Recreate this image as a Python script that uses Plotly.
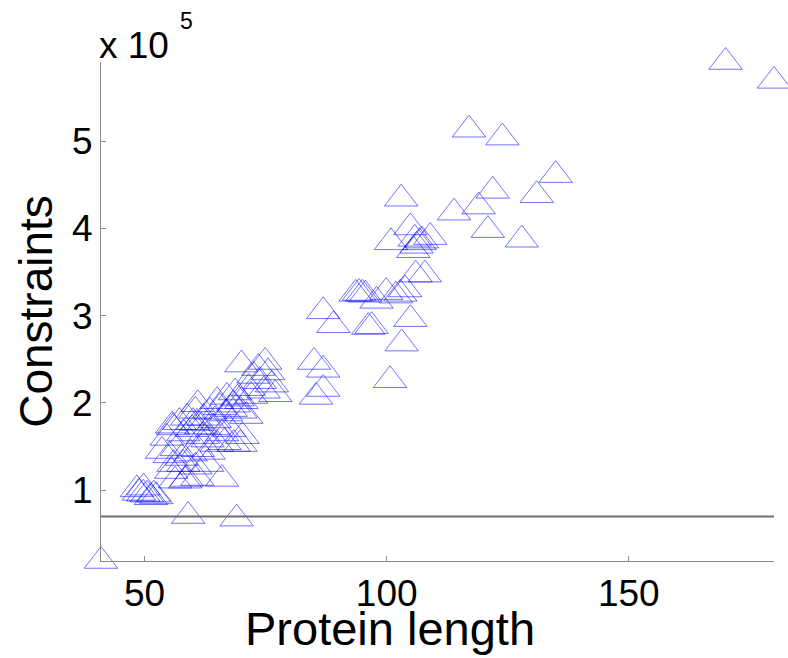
import plotly.graph_objects as go

# Protein length (residues) and number of constraints (in units of 1e5)
protein_length = [
    41.0, 59.0, 69.0, 48.4, 48.8, 49.7, 49.8, 50.5, 51.3, 51.9, 52.4,
    55.5, 56.3, 58.4, 58.7, 60.9, 66.0, 56.0, 58.0, 62.9, 60.5,
    53.6, 55.2, 56.7, 57.7, 59.5, 61.0, 63.2, 64.9, 66.5, 68.4, 69.8,
    54.6, 55.7, 55.9, 58.0, 60.8, 62.0, 63.0, 64.2, 66.0, 67.5, 70.2,
    57.2, 59.8, 61.7,
    58.8, 60.0, 60.5, 61.0, 62.2, 63.5, 64.5, 65.6, 66.8, 68.4, 69.8, 71.0,
    65.0, 67.8, 69.2, 72.0,
    67.0, 68.7, 70.0, 71.5, 72.5, 73.8, 74.6, 76.3, 77.0,
    70.0, 73.5, 74.9, 75.5,
    85.0, 86.9, 85.4, 86.9, 86.9, 89.0,
    93.6, 94.3, 95.0, 95.6, 97.9, 99.9, 101.9, 102.8, 103.8,
    96.9, 96.2, 104.9, 103.1, 100.7,
    106.0, 107.9,
    100.9, 104.9, 109.0, 105.5, 106.2, 106.8, 107.3, 105.8,
    103.0,
    113.9, 119.0, 121.9, 120.9, 127.9, 131.0, 134.9, 117.0, 123.9,
    170.0, 180.0,
]
constraints = [
    0.19, 0.705, 0.675, 1.01, 0.97, 0.96, 1.03, 0.95, 0.92, 0.95, 0.93,
    1.22, 1.11, 1.11, 1.13, 1.14, 1.13, 1.30, 1.30, 1.30, 1.27,
    1.45, 1.40, 1.48, 1.37, 1.42, 1.47, 1.44, 1.53, 1.55, 1.53, 1.53,
    1.60, 1.74, 1.72, 1.65, 1.77, 1.62, 1.58, 1.72, 1.65, 1.70, 1.62,
    1.78, 1.70, 1.73,
    1.83, 1.78, 1.91, 1.985, 1.83, 1.90, 1.80, 1.95, 1.88, 1.98, 1.91, 1.85,
    2.02, 1.93, 2.05, 2.08,
    2.07, 2.12, 2.02, 2.17, 2.31, 2.25, 2.14, 2.21, 2.10,
    2.44, 2.40, 2.47, 2.35,
    2.47, 2.38, 2.07, 2.16, 3.05, 2.89,
    3.25, 3.26, 3.25, 3.24, 3.17, 3.27, 3.23, 3.25, 3.30,
    2.88, 2.87, 2.96, 2.68, 2.26,
    3.47, 3.47,
    3.84, 4.01, 3.90, 3.75, 3.80, 3.84, 3.86, 3.88,
    4.34,
    4.18, 4.25, 4.43, 3.98, 3.87, 4.38, 4.61, 5.13, 5.04,
    5.906, 5.69,
]

threshold = 0.70
y_ticks = [1, 2, 3, 4, 5]
y_tick_text = ["1", "2", "3", "4", "5"]
x_ticks = [50, 100, 150]
x_tick_text = ["50", "100", "150"]

FONT = "Liberation Sans"
AXIS_GREY = "#8a8a8a"

fig = go.Figure()

fig.add_trace(go.Scatter(
    x=protein_length,
    y=constraints,
    mode="markers",
    marker=dict(
        symbol="triangle-up-open",
        size=29,
        color="rgb(0,0,255)",
        opacity=0.55,
        line=dict(width=1),
    ),
    showlegend=False,
    hoverinfo="x+y",
    cliponaxis=False,
))

# Horizontal reference level across the whole axis
fig.add_shape(
    type="line", xref="paper", x0=0, x1=1, yref="y", y0=threshold, y1=threshold,
    line=dict(color="#6e6e6e", width=2),
)

# Exponent multiplier above the y axis
fig.add_annotation(
    xref="paper", yref="paper", x=0, y=1, xanchor="left", yanchor="bottom",
    text="x 10", showarrow=False, xshift=-4, yshift=-6,
    font=dict(family=FONT, size=37, color="black"),
)
fig.add_annotation(
    xref="paper", yref="paper", x=0, y=1, xanchor="left", yanchor="bottom",
    text="5", showarrow=False, xshift=77, yshift=26,
    font=dict(family=FONT, size=23, color="black"),
)

# x-axis title
fig.add_annotation(
    xref="paper", yref="paper", x=0.4294, y=0, xanchor="center", yanchor="bottom",
    text="Protein length", showarrow=False, yshift=-96,
    font=dict(family=FONT, size=47, color="black"),
)

fig.update_layout(
    width=788, height=658,
    margin=dict(l=101, r=14, t=62, b=97),
    paper_bgcolor="white", plot_bgcolor="white",
    font=dict(family=FONT, size=37, color="black"),
)

fig.update_xaxes(
    range=[41, 180], tickvals=x_ticks, ticktext=x_tick_text,
    showgrid=False, zeroline=False,
    showline=True, linecolor=AXIS_GREY, linewidth=1,
    ticks="inside", ticklen=5, tickcolor=AXIS_GREY, tickwidth=1,
    tickfont=dict(family=FONT, size=37, color="black"),
)
fig.update_yaxes(
    range=[0.19, 5.906], tickvals=y_ticks, ticktext=y_tick_text,
    showgrid=False, zeroline=False,
    showline=True, linecolor=AXIS_GREY, linewidth=1,
    ticks="inside", ticklen=5, tickcolor=AXIS_GREY, tickwidth=1,
    tickfont=dict(family=FONT, size=37, color="black"),
    title=dict(text="Constraints", font=dict(family=FONT, size=46, color="black"), standoff=4),
)

fig.write_html("out.html")
